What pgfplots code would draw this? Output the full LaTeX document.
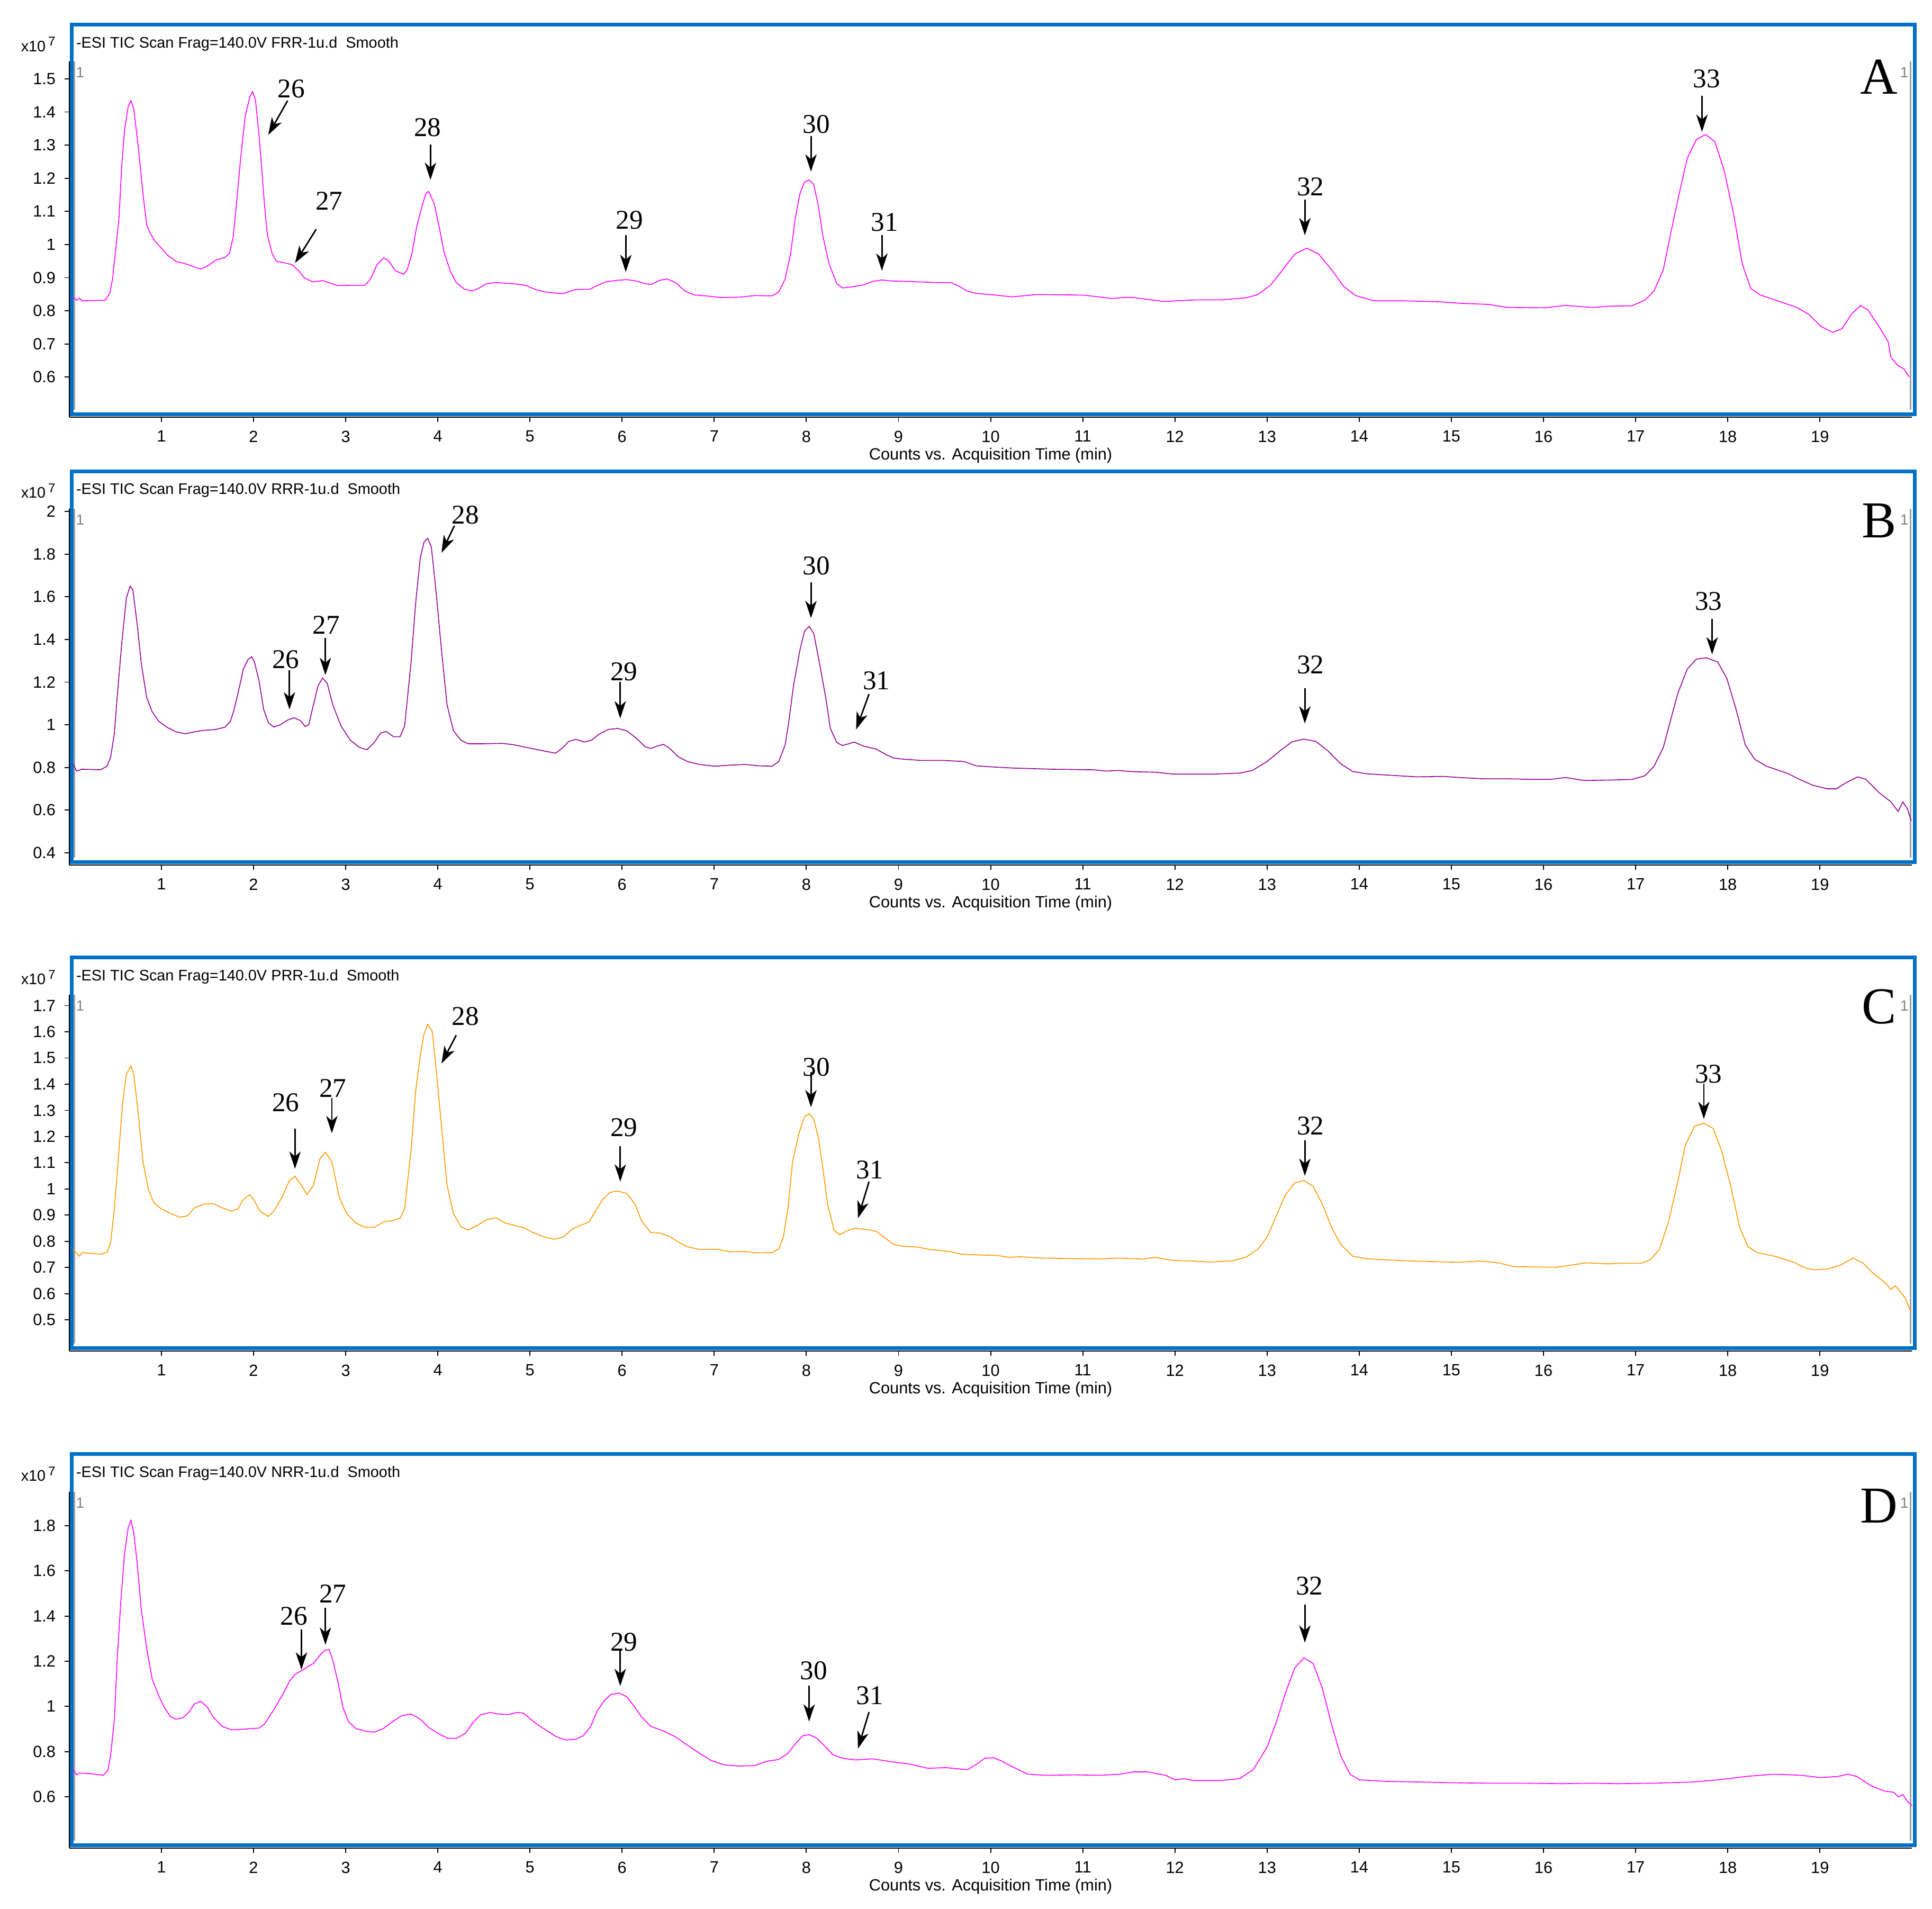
\documentclass[border=0pt]{standalone}
\usepackage{fontspec}
\setmainfont{Liberation Sans}
\newfontfamily\timesf{Liberation Serif}
\usepackage{pgfplots}
\pgfplotsset{compat=1.18}
\usetikzlibrary{arrows.meta}
\definecolor{frameblue}{RGB}{0,112,200}
\definecolor{magA}{RGB}{255,0,255}
\definecolor{purB}{RGB}{150,0,150}
\definecolor{oraC}{RGB}{255,153,0}
\definecolor{magD}{RGB}{255,0,255}
\pgfplotsset{
  chrom/.style={
    scale only axis, width=747.8pt,
    xmin=0, xmax=20,
    axis x line*=bottom, axis y line*=left,
    xtick={1,2,...,19},
    tick align=outside, major tick length=2pt,
    axis line style={black, line width=0.4pt, -},
    every tick/.style={black, line width=0.4pt},
    tick label style={font=\fontsize{6.6}{7}\selectfont},
    /pgf/number format/assume math mode=true,
    xlabel={Counts vs. Acquisition Time (min)},
    xlabel style={at={(axis description cs:0.5,0)}, anchor=center, yshift=-15.5pt, font=\fontsize{6.6}{7}\selectfont},
    clip=false,
  },
}
\tikzset{
  arr/.style={black, line width=0.6pt, -{Stealth[length=7pt,width=4.6pt,inset=2pt]}},
  pk/.style={font=\timesf\fontsize{11}{12}\selectfont, inner sep=0pt},
  plet/.style={font=\timesf\fontsize{21}{22}\selectfont, inner sep=0pt},
}
\newcommand{\ttl}[1]{\fontsize{6.2}{7}\selectfont -ESI TIC Scan Frag=140.0V #1-1u.d\ \ Smooth}
\newcommand{\xten}{\fontsize{6.2}{7}\selectfont x10\,\raisebox{2.2pt}{\fontsize{5.2}{6}\selectfont 7}}
\begin{document}
\begin{tikzpicture}[x=0.5pt,y=-0.5pt]
\useasboundingbox (0,0) rectangle (1568,1549);
% ---------------- frames and decorations
\foreach \ft/\at/\ab in {20/49.7/338.5, 382.5/412.7/701.9, 777/807.3/1096.3, 1180/1210.7/1499.7}{
  \draw[frameblue, line width=1.5pt] (58.3,\ft) rectangle (1554,\ab-2.5);
  \draw[gray!75, line width=0.7pt] (60.3,\at) -- (60.3,\ab-6);
  \draw[gray!75, line width=0.7pt] (1550.5,\at) -- (1550.5,\ab-6);
  \node[gray, font=\fontsize{6}{7}\selectfont, inner sep=0pt] at (65,\at+9) {1};
  \node[gray, font=\fontsize{6}{7}\selectfont, inner sep=0pt] at (1545.5,\at+9) {1};
}
\node[anchor=west, inner sep=0pt] at (61.5,35.5) {\ttl{FRR}};
\node[anchor=west, inner sep=0pt] at (61.5,398) {\ttl{RRR}};
\node[anchor=west, inner sep=0pt] at (61.5,792.5) {\ttl{PRR}};
\node[anchor=west, inner sep=0pt] at (61.5,1195.5) {\ttl{NRR}};
\node[inner sep=0pt] at (31,36) {\xten};
\node[inner sep=0pt] at (31,398.5) {\xten};
\node[inner sep=0pt] at (31,793) {\xten};
\node[inner sep=0pt] at (31,1196) {\xten};
% ---------------- Panel A
\begin{axis}[chrom, at={(28.1pt,-24.85pt)}, anchor=north west, height=144.4pt,
  ymin=0.479, ymax=1.553,
  ytick={0.6,0.7,0.8,0.9,1,1.1,1.2,1.3,1.4,1.5},
  yticklabels={0.6,0.7,0.8,0.9,1,1.1,1.2,1.3,1.4,1.5}]
\addplot[magA, line width=0.35pt] coordinates {
(0.04,0.842)(0.08,0.832)(0.11,0.838)(0.14,0.83)(0.39,0.832)(0.44,0.853)(0.47,0.896)(0.50,0.974)(0.54,1.08)(0.57,1.238)(0.60,1.345)(0.64,1.417)(0.67,1.434)(0.70,1.409)(0.74,1.317)(0.77,1.238)(0.80,1.153)(0.84,1.06)(0.87,1.038)(0.93,1.01)(1.00,0.989)(1.07,0.967)(1.16,0.949)(1.26,0.942)(1.36,0.932)(1.43,0.926)(1.50,0.935)(1.59,0.953)(1.69,0.961)(1.74,0.974)(1.78,1.024)(1.82,1.138)(1.86,1.26)(1.91,1.388)(1.96,1.445)(1.99,1.461)(2.02,1.438)(2.06,1.331)(2.09,1.224)(2.12,1.117)(2.15,1.031)(2.20,0.974)(2.25,0.949)(2.35,0.944)(2.42,0.939)(2.49,0.921)(2.55,0.9)(2.64,0.887)(2.75,0.891)(2.84,0.883)(2.91,0.876)(3.05,0.877)(3.21,0.877)(3.27,0.896)(3.34,0.939)(3.41,0.959)(3.46,0.953)(3.54,0.921)(3.63,0.91)(3.67,0.925)(3.72,0.974)(3.77,1.053)(3.83,1.117)(3.87,1.154)(3.90,1.16)(3.96,1.124)(4.02,1.046)(4.07,0.974)(4.14,0.917)(4.20,0.885)(4.29,0.865)(4.37,0.86)(4.44,0.867)(4.53,0.882)(4.63,0.885)(4.76,0.883)(4.90,0.879)(4.96,0.876)(5.06,0.864)(5.16,0.857)(5.29,0.853)(5.36,0.852)(5.49,0.864)(5.65,0.865)(5.72,0.875)(5.82,0.887)(5.95,0.892)(6.05,0.894)(6.15,0.89)(6.25,0.882)(6.31,0.879)(6.41,0.892)(6.49,0.896)(6.58,0.885)(6.68,0.86)(6.78,0.848)(6.91,0.845)(7.07,0.84)(7.27,0.841)(7.44,0.846)(7.63,0.845)(7.70,0.857)(7.77,0.896)(7.83,0.974)(7.88,1.081)(7.93,1.153)(7.98,1.188)(8.03,1.195)(8.08,1.181)(8.13,1.117)(8.18,1.024)(8.25,0.939)(8.33,0.882)(8.39,0.869)(8.49,0.872)(8.62,0.878)(8.72,0.889)(8.82,0.893)(8.92,0.89)(9.05,0.889)(9.25,0.887)(9.45,0.885)(9.57,0.885)(9.65,0.875)(9.75,0.859)(9.85,0.852)(10.0,0.849)(10.23,0.842)(10.50,0.849)(10.86,0.848)(11.02,0.847)(11.32,0.837)(11.49,0.841)(11.58,0.839)(11.88,0.828)(12.24,0.833)(12.51,0.833)(12.77,0.839)(12.90,0.849)(13.04,0.878)(13.17,0.924)(13.30,0.971)(13.43,0.989)(13.56,0.971)(13.70,0.924)(13.83,0.874)(13.96,0.846)(14.16,0.830)(14.49,0.830)(14.88,0.827)(15.08,0.823)(15.41,0.819)(15.61,0.810)(16.01,0.809)(16.24,0.816)(16.54,0.810)(16.73,0.814)(16.96,0.815)(17.10,0.832)(17.20,0.860)(17.30,0.924)(17.39,1.046)(17.46,1.138)(17.56,1.260)(17.66,1.317)(17.76,1.332)(17.86,1.310)(17.96,1.224)(18.06,1.096)(18.16,0.939)(18.25,0.867)(18.35,0.848)(18.52,0.832)(18.75,0.810)(18.88,0.789)(19.01,0.753)(19.14,0.735)(19.24,0.746)(19.34,0.789)(19.44,0.816)(19.52,0.803)(19.64,0.753)(19.74,0.707)(19.77,0.660)(19.84,0.636)(19.91,0.625)(19.97,0.600)
};
\draw[arr] (axis cs:2.37,1.434) -- (axis cs:2.16,1.331);
\node[pk] at (axis cs:2.41,1.47) {26};
\draw[arr] (axis cs:2.68,1.046) -- (axis cs:2.45,0.944);
\node[pk] at (axis cs:2.82,1.131) {27};
\draw[arr] (axis cs:3.92,1.302) -- (axis cs:3.92,1.195);
\node[pk] at (axis cs:3.89,1.354) {28};
\draw[arr] (axis cs:6.04,1.028) -- (axis cs:6.04,0.917);
\node[pk] at (axis cs:6.08,1.074) {29};
\draw[arr] (axis cs:8.05,1.327) -- (axis cs:8.05,1.22);
\node[pk] at (axis cs:8.11,1.363) {30};
\draw[arr] (axis cs:8.82,1.028) -- (axis cs:8.82,0.921);
\node[pk] at (axis cs:8.85,1.067) {31};
\draw[arr] (axis cs:13.41,1.135) -- (axis cs:13.41,1.028);
\node[pk] at (axis cs:13.47,1.174) {32};
\draw[arr] (axis cs:17.72,1.449) -- (axis cs:17.72,1.34);
\node[pk] at (axis cs:17.77,1.5) {33};
\node[plet] at (axis cs:19.64,1.506) {A};
\end{axis}
% ---------------- Panel B
\begin{axis}[chrom, at={(28.1pt,-206.35pt)}, anchor=north west, height=144.6pt,
  ymin=0.343, ymax=2.013,
  ytick={0.4,0.6,0.8,1,1.2,1.4,1.6,1.8,2},
  yticklabels={0.4,0.6,0.8,1,1.2,1.4,1.6,1.8,2}]
\addplot[purB, line width=0.35pt] coordinates {
(0.04,0.817)(0.08,0.783)(0.14,0.792)(0.34,0.789)(0.41,0.806)(0.45,0.85)(0.49,0.961)(0.52,1.128)(0.57,1.383)(0.62,1.594)(0.66,1.65)(0.69,1.633)(0.74,1.461)(0.78,1.294)(0.84,1.128)(0.90,1.061)(0.97,1.017)(1.07,0.986)(1.16,0.967)(1.26,0.958)(1.36,0.967)(1.46,0.974)(1.59,0.978)(1.69,0.989)(1.75,1.017)(1.79,1.072)(1.85,1.183)(1.89,1.261)(1.94,1.306)(1.98,1.319)(2.01,1.294)(2.06,1.206)(2.11,1.072)(2.16,1.011)(2.22,0.989)(2.29,1.0)(2.37,1.022)(2.44,1.033)(2.51,1.019)(2.56,0.992)(2.60,1.0)(2.65,1.094)(2.70,1.183)(2.75,1.219)(2.80,1.194)(2.86,1.094)(2.95,0.994)(3.05,0.928)(3.15,0.894)(3.23,0.883)(3.31,0.917)(3.38,0.961)(3.44,0.969)(3.52,0.944)(3.59,0.944)(3.64,0.994)(3.71,1.294)(3.76,1.572)(3.81,1.783)(3.85,1.856)(3.89,1.874)(3.93,1.833)(3.98,1.628)(4.04,1.35)(4.10,1.094)(4.17,0.972)(4.25,0.928)(4.33,0.911)(4.50,0.911)(4.70,0.913)(4.83,0.906)(4.96,0.894)(5.09,0.883)(5.19,0.874)(5.28,0.867)(5.36,0.894)(5.42,0.922)(5.50,0.932)(5.59,0.919)(5.67,0.928)(5.75,0.956)(5.85,0.978)(5.95,0.983)(6.05,0.972)(6.15,0.939)(6.25,0.897)(6.31,0.889)(6.38,0.9)(6.45,0.908)(6.51,0.892)(6.61,0.85)(6.71,0.828)(6.84,0.814)(7.01,0.806)(7.17,0.811)(7.34,0.814)(7.47,0.808)(7.63,0.806)(7.70,0.828)(7.77,0.906)(7.81,1.017)(7.86,1.183)(7.93,1.35)(7.98,1.439)(8.03,1.461)(8.08,1.428)(8.14,1.294)(8.21,1.128)(8.26,0.983)(8.33,0.917)(8.39,0.903)(8.46,0.911)(8.52,0.919)(8.62,0.9)(8.76,0.886)(8.86,0.861)(8.95,0.844)(9.05,0.839)(9.25,0.833)(9.48,0.833)(9.71,0.828)(9.84,0.808)(10.0,0.803)(10.26,0.797)(10.66,0.792)(11.12,0.789)(11.25,0.783)(11.39,0.786)(11.55,0.78)(11.78,0.778)(11.98,0.769)(12.18,0.769)(12.44,0.769)(12.71,0.774)(12.84,0.786)(13.0,0.828)(13.14,0.878)(13.27,0.92)(13.40,0.933)(13.53,0.922)(13.66,0.878)(13.80,0.817)(13.93,0.781)(14.09,0.77)(14.36,0.763)(14.62,0.756)(14.92,0.758)(15.08,0.753)(15.35,0.747)(15.61,0.747)(15.87,0.744)(16.07,0.744)(16.24,0.753)(16.44,0.739)(16.73,0.741)(16.96,0.744)(17.10,0.761)(17.20,0.806)(17.30,0.894)(17.39,1.039)(17.46,1.15)(17.56,1.261)(17.66,1.308)(17.77,1.314)(17.89,1.294)(17.99,1.217)(18.09,1.072)(18.19,0.906)(18.29,0.839)(18.42,0.806)(18.65,0.772)(18.78,0.744)(18.92,0.717)(19.08,0.7)(19.18,0.7)(19.28,0.728)(19.41,0.756)(19.50,0.744)(19.64,0.683)(19.77,0.639)(19.85,0.594)(19.90,0.639)(19.95,0.606)(19.99,0.55)
};
\draw[arr] (axis cs:2.39,1.256) -- (axis cs:2.39,1.072);
\node[pk] at (axis cs:2.35,1.306) {26};
\draw[arr] (axis cs:2.78,1.406) -- (axis cs:2.78,1.233);
\node[pk] at (axis cs:2.79,1.467) {27};
\draw[arr] (axis cs:4.18,1.933) -- (axis cs:4.04,1.806);
\node[pk] at (axis cs:4.30,1.983) {28};
\draw[arr] (axis cs:5.98,1.2) -- (axis cs:5.98,1.03);
\node[pk] at (axis cs:6.02,1.25) {29};
\draw[arr] (axis cs:8.05,1.667) -- (axis cs:8.05,1.5);
\node[pk] at (axis cs:8.11,1.744) {30};
\draw[arr] (axis cs:8.68,1.144) -- (axis cs:8.54,0.978);
\node[pk] at (axis cs:8.76,1.206) {31};
\draw[arr] (axis cs:13.41,1.172) -- (axis cs:13.41,1.006);
\node[pk] at (axis cs:13.47,1.281) {32};
\draw[arr] (axis cs:17.83,1.497) -- (axis cs:17.83,1.33);
\node[pk] at (axis cs:17.79,1.578) {33};
\node[plet] at (axis cs:19.64,1.956) {B};
\end{axis}
% ---------------- Panel C
\begin{axis}[chrom, at={(28.1pt,-403.65pt)}, anchor=north west, height=144.5pt,
  ymin=0.381, ymax=1.741,
  ytick={0.5,0.6,0.7,0.8,0.9,1,1.1,1.2,1.3,1.4,1.5,1.6,1.7},
  yticklabels={0.5,0.6,0.7,0.8,0.9,1,1.1,1.2,1.3,1.4,1.5,1.6,1.7}]
\addplot[oraC, line width=0.35pt] coordinates {
(0.04,0.77)(0.11,0.743)(0.14,0.757)(0.34,0.751)(0.41,0.757)(0.45,0.797)(0.49,0.924)(0.54,1.149)(0.58,1.33)(0.62,1.438)(0.67,1.47)(0.70,1.438)(0.75,1.285)(0.80,1.104)(0.86,0.996)(0.92,0.946)(1.0,0.924)(1.10,0.906)(1.20,0.892)(1.28,0.897)(1.36,0.928)(1.46,0.942)(1.56,0.944)(1.66,0.928)(1.76,0.915)(1.83,0.924)(1.89,0.96)(1.96,0.978)(2.0,0.96)(2.07,0.915)(2.16,0.895)(2.22,0.915)(2.31,0.969)(2.39,1.032)(2.45,1.048)(2.52,1.014)(2.58,0.978)(2.65,1.014)(2.72,1.114)(2.78,1.14)(2.85,1.104)(2.93,0.969)(3.01,0.906)(3.11,0.87)(3.21,0.853)(3.31,0.853)(3.41,0.874)(3.51,0.879)(3.59,0.888)(3.64,0.924)(3.71,1.149)(3.76,1.375)(3.81,1.51)(3.85,1.592)(3.89,1.628)(3.94,1.601)(3.98,1.465)(4.04,1.24)(4.10,1.014)(4.17,0.906)(4.25,0.856)(4.33,0.843)(4.43,0.861)(4.53,0.883)(4.63,0.89)(4.73,0.87)(4.83,0.861)(4.93,0.852)(5.03,0.834)(5.15,0.817)(5.26,0.808)(5.36,0.816)(5.46,0.847)(5.55,0.861)(5.64,0.874)(5.71,0.915)(5.79,0.96)(5.87,0.987)(5.95,0.992)(6.05,0.983)(6.14,0.942)(6.21,0.879)(6.31,0.834)(6.41,0.831)(6.51,0.82)(6.61,0.797)(6.71,0.779)(6.84,0.769)(7.04,0.769)(7.17,0.76)(7.34,0.761)(7.47,0.756)(7.63,0.757)(7.70,0.77)(7.75,0.816)(7.80,0.924)(7.85,1.104)(7.92,1.213)(7.98,1.276)(8.03,1.287)(8.08,1.267)(8.13,1.195)(8.18,1.077)(8.23,0.942)(8.30,0.843)(8.36,0.825)(8.43,0.838)(8.52,0.85)(8.66,0.845)(8.76,0.838)(8.86,0.811)(8.95,0.788)(9.05,0.781)(9.19,0.779)(9.32,0.77)(9.55,0.761)(9.68,0.751)(9.85,0.748)(10.07,0.746)(10.20,0.739)(10.33,0.741)(10.53,0.736)(10.92,0.734)(11.19,0.733)(11.39,0.736)(11.65,0.732)(11.78,0.739)(11.98,0.727)(12.18,0.725)(12.38,0.721)(12.61,0.725)(12.77,0.739)(12.90,0.77)(13.0,0.816)(13.10,0.897)(13.20,0.978)(13.30,1.023)(13.40,1.032)(13.50,1.01)(13.60,0.942)(13.70,0.852)(13.80,0.788)(13.93,0.743)(14.09,0.733)(14.42,0.727)(14.75,0.723)(15.08,0.72)(15.31,0.725)(15.51,0.718)(15.68,0.703)(16.14,0.701)(16.30,0.709)(16.47,0.718)(16.70,0.714)(16.86,0.716)(17.06,0.716)(17.16,0.73)(17.26,0.77)(17.36,0.879)(17.46,1.032)(17.54,1.168)(17.64,1.24)(17.74,1.251)(17.84,1.231)(17.93,1.149)(18.03,1.014)(18.13,0.852)(18.22,0.779)(18.32,0.757)(18.51,0.743)(18.71,0.721)(18.84,0.698)(18.94,0.691)(19.08,0.694)(19.21,0.707)(19.36,0.736)(19.47,0.716)(19.57,0.68)(19.70,0.644)(19.77,0.617)(19.82,0.63)(19.87,0.608)(19.93,0.581)(19.98,0.536)
};
\draw[arr] (axis cs:2.45,1.231) -- (axis cs:2.45,1.077);
\node[pk] at (axis cs:2.35,1.33) {26};
\draw[arr] (axis cs:2.85,1.348) -- (axis cs:2.85,1.213);
\node[pk] at (axis cs:2.86,1.384) {27};
\draw[arr] (axis cs:4.20,1.587) -- (axis cs:4.04,1.479);
\node[pk] at (axis cs:4.30,1.659) {28};
\draw[arr] (axis cs:5.98,1.163) -- (axis cs:5.98,1.028);
\node[pk] at (axis cs:6.02,1.235) {29};
\draw[arr] (axis cs:8.05,1.447) -- (axis cs:8.05,1.312);
\node[pk] at (axis cs:8.11,1.465) {30};
\draw[arr] (axis cs:8.68,1.028) -- (axis cs:8.56,0.888);
\node[pk] at (axis cs:8.69,1.073) {31};
\draw[arr] (axis cs:13.41,1.186) -- (axis cs:13.41,1.05);
\node[pk] at (axis cs:13.47,1.24) {32};
\draw[arr] (axis cs:17.74,1.402) -- (axis cs:17.74,1.267);
\node[pk] at (axis cs:17.79,1.438) {33};
\node[plet] at (axis cs:19.64,1.695) {C};
\end{axis}
% ---------------- Panel D
\begin{axis}[chrom, at={(28.1pt,-605.35pt)}, anchor=north west, height=144.5pt,
  ymin=0.3725, ymax=1.949,
  ytick={0.6,0.8,1,1.2,1.4,1.6,1.8},
  yticklabels={0.6,0.8,1,1.2,1.4,1.6,1.8}]
\addplot[magD, line width=0.35pt] coordinates {
(0.04,0.724)(0.08,0.697)(0.11,0.705)(0.21,0.703)(0.37,0.695)(0.42,0.718)(0.45,0.786)(0.49,0.943)(0.52,1.205)(0.56,1.467)(0.60,1.676)(0.64,1.792)(0.67,1.823)(0.70,1.771)(0.74,1.624)(0.78,1.436)(0.84,1.258)(0.90,1.121)(0.97,1.048)(1.03,0.996)(1.10,0.954)(1.16,0.943)(1.23,0.949)(1.30,0.975)(1.36,1.012)(1.43,1.022)(1.50,0.996)(1.56,0.954)(1.66,0.912)(1.76,0.896)(1.89,0.899)(2.06,0.904)(2.12,0.922)(2.22,0.985)(2.31,1.048)(2.39,1.111)(2.45,1.142)(2.52,1.158)(2.58,1.174)(2.65,1.19)(2.72,1.226)(2.77,1.247)(2.82,1.252)(2.86,1.205)(2.92,1.101)(2.97,0.996)(3.03,0.933)(3.11,0.902)(3.21,0.891)(3.31,0.886)(3.41,0.902)(3.51,0.933)(3.61,0.959)(3.71,0.966)(3.81,0.943)(3.90,0.907)(4.0,0.881)(4.10,0.86)(4.20,0.858)(4.30,0.881)(4.39,0.933)(4.47,0.964)(4.57,0.973)(4.66,0.966)(4.76,0.964)(4.86,0.973)(4.93,0.97)(4.99,0.949)(5.09,0.917)(5.19,0.891)(5.29,0.865)(5.39,0.851)(5.49,0.854)(5.58,0.87)(5.66,0.912)(5.73,0.98)(5.81,1.027)(5.88,1.053)(5.97,1.059)(6.05,1.043)(6.14,0.996)(6.21,0.954)(6.31,0.912)(6.45,0.891)(6.58,0.865)(6.71,0.828)(6.84,0.792)(6.97,0.76)(7.11,0.741)(7.27,0.736)(7.44,0.738)(7.57,0.757)(7.70,0.765)(7.80,0.792)(7.88,0.834)(7.96,0.87)(8.03,0.875)(8.11,0.86)(8.19,0.828)(8.29,0.786)(8.39,0.771)(8.53,0.763)(8.72,0.768)(8.92,0.755)(9.12,0.745)(9.32,0.726)(9.51,0.729)(9.75,0.72)(9.85,0.745)(9.94,0.771)(10.03,0.773)(10.11,0.76)(10.2,0.74)(10.4,0.70)(10.6,0.695)(10.9,0.697)(11.2,0.695)(11.4,0.70)(11.55,0.71)(11.7,0.71)(11.9,0.695)(12.0,0.675)(12.1,0.68)(12.2,0.672)(12.5,0.672)(12.7,0.68)(12.85,0.72)(13.0,0.82)(13.1,0.93)(13.2,1.06)(13.3,1.17)(13.4,1.215)(13.5,1.19)(13.6,1.08)(13.7,0.92)(13.8,0.78)(13.9,0.70)(14.0,0.675)(14.3,0.668)(14.7,0.665)(15.0,0.662)(15.4,0.66)(15.8,0.66)(16.2,0.658)(16.5,0.66)(16.8,0.658)(17.2,0.66)(17.6,0.665)(17.9,0.675)(18.2,0.69)(18.5,0.70)(18.8,0.695)(19.0,0.685)(19.2,0.69)(19.3,0.70)(19.4,0.69)(19.55,0.65)(19.7,0.625)(19.8,0.62)(19.85,0.60)(19.9,0.61)(19.95,0.58)(20.0,0.56)
};
\draw[arr] (axis cs:2.52,1.341) -- (axis cs:2.52,1.163);
\node[pk] at (axis cs:2.44,1.399) {26};
\draw[arr] (axis cs:2.78,1.436) -- (axis cs:2.78,1.273);
\node[pk] at (axis cs:2.86,1.498) {27};
\draw[arr] (axis cs:5.98,1.247) -- (axis cs:5.98,1.09);
\node[pk] at (axis cs:6.02,1.284) {29};
\draw[arr] (axis cs:8.03,1.092) -- (axis cs:8.03,0.933);
\node[pk] at (axis cs:8.08,1.158) {30};
\draw[arr] (axis cs:8.68,0.975) -- (axis cs:8.56,0.813);
\node[pk] at (axis cs:8.69,1.048) {31};
\draw[arr] (axis cs:13.41,1.451) -- (axis cs:13.41,1.282);
\node[pk] at (axis cs:13.46,1.533) {32};
\node[plet] at (axis cs:19.64,1.887) {D};
\end{axis}
\end{tikzpicture}
\end{document}
